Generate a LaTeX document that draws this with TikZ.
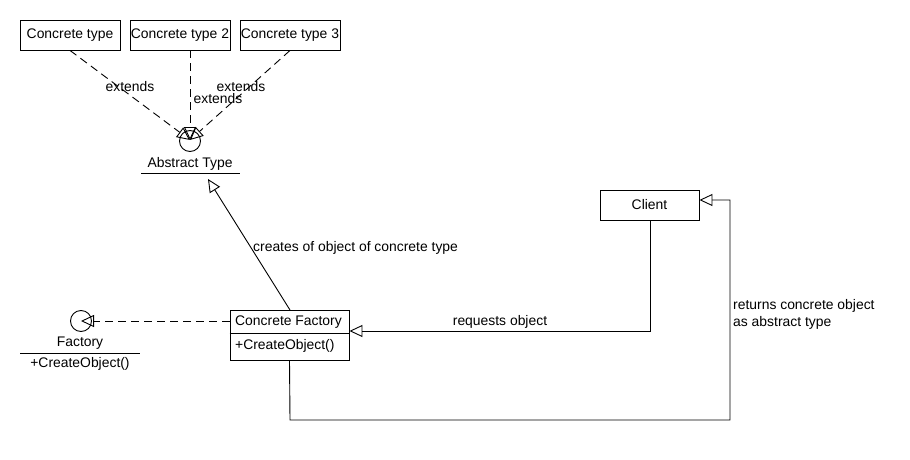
\documentclass[tikz,border=0pt]{standalone}
\usepackage{fontspec}
\setmainfont{Liberation Sans}
\usetikzlibrary{arrows.meta,calc}
\begin{document}
\begin{tikzpicture}[x=1pt,y=-1pt,
  every node/.style={font=\fontsize{13.9}{17}\selectfont, inner sep=0pt},
  cbox/.style={draw, line width=0.9pt, minimum width=100pt, minimum height=30pt},
  conn/.style={line width=0.9pt},
  dconn/.style={line width=0.9pt, dash pattern=on 8pt off 5pt},
  realize/.style={-{Triangle[open, length=13pt, width=12pt]}},
  iface/.style={draw, circle, line width=0.9pt, minimum size=21pt}
]
\useasboundingbox[fill=white] (0,0) rectangle (910,460);

% top concrete types
\node[cbox] (ct1) at (70,35) {Concrete type};
\node[cbox] (ct2) at (180,35) {Concrete type 2};
\node[cbox] (ct3) at (290,35) {Concrete type 3};

% abstract type interface
\node[iface] (abs) at (190,141) {};
\coordinate (abstip) at (190,140);
\node (abslbl) at (190,163.5) {Abstract Type};
\coordinate (absl) at (141,173);
\coordinate (absr) at (240,173);
\draw[conn] (absl) -- (absr);
\coordinate (abshook) at (208,179);

\draw[dconn, realize] (ct1.south) -- (abstip);
\draw[dconn, realize] ($(ct2.south)+(10,0)$) -- (abstip);
\draw[dconn, realize] (ct3.south) -- (abstip);
\node (e1) at (130,87) {extends};
\node (e2) at (218,99) {extends};
\node (e3) at (241,87) {extends};

% factory interface
\node[iface] (fac) at (81,321) {};
\coordinate (factip) at (81,321);
\node (faclbl) at (80,343.5) {Factory};
\coordinate (facl) at (20,353);
\coordinate (facr) at (140,353);
\draw[conn] (facl) -- (facr);
\node (facop) at (80,364) {+CreateObject()};

% concrete factory
\node[draw, line width=0.9pt, minimum width=119pt, minimum height=50pt] (cf) at (289.5,335) {};
\node[anchor=west] (cfname) at (235,322.5) {Concrete Factory};
\node[anchor=west] (cfop) at (235,345.5) {+CreateObject()};
\draw[conn] (cf.west |- 0,333) -- (cf.east |- 0,333);

% client
\node[draw, line width=0.9pt, minimum width=99pt, minimum height=30pt] (cl) at (649.5,205) {Client};

% connectors
\draw[dconn, realize] (cf.west |- 0,321) -- (factip);
\draw[conn, realize] (290,310) -- (abshook);
\node[anchor=west] (creates) at (253,248) {creates of object of concrete type};

\coordinate (c1) at (650,331);
\draw[conn, realize] (cl.south -| 650,0) -- (c1) -- (cf.east |- c1);
\node (req) at (500,322) {requests object};

\coordinate (r1) at (290,420);
\coordinate (r2) at (730,420);
\coordinate (r3) at (730,200);
\draw[conn, realize] (cf.south) -- (r1) -- (r2) -- (r3) -- (cl.east |- r3);
\node[anchor=west, align=left] (ret) at (733,314) {returns concrete object\\as abstract type};
\end{tikzpicture}
\end{document}
